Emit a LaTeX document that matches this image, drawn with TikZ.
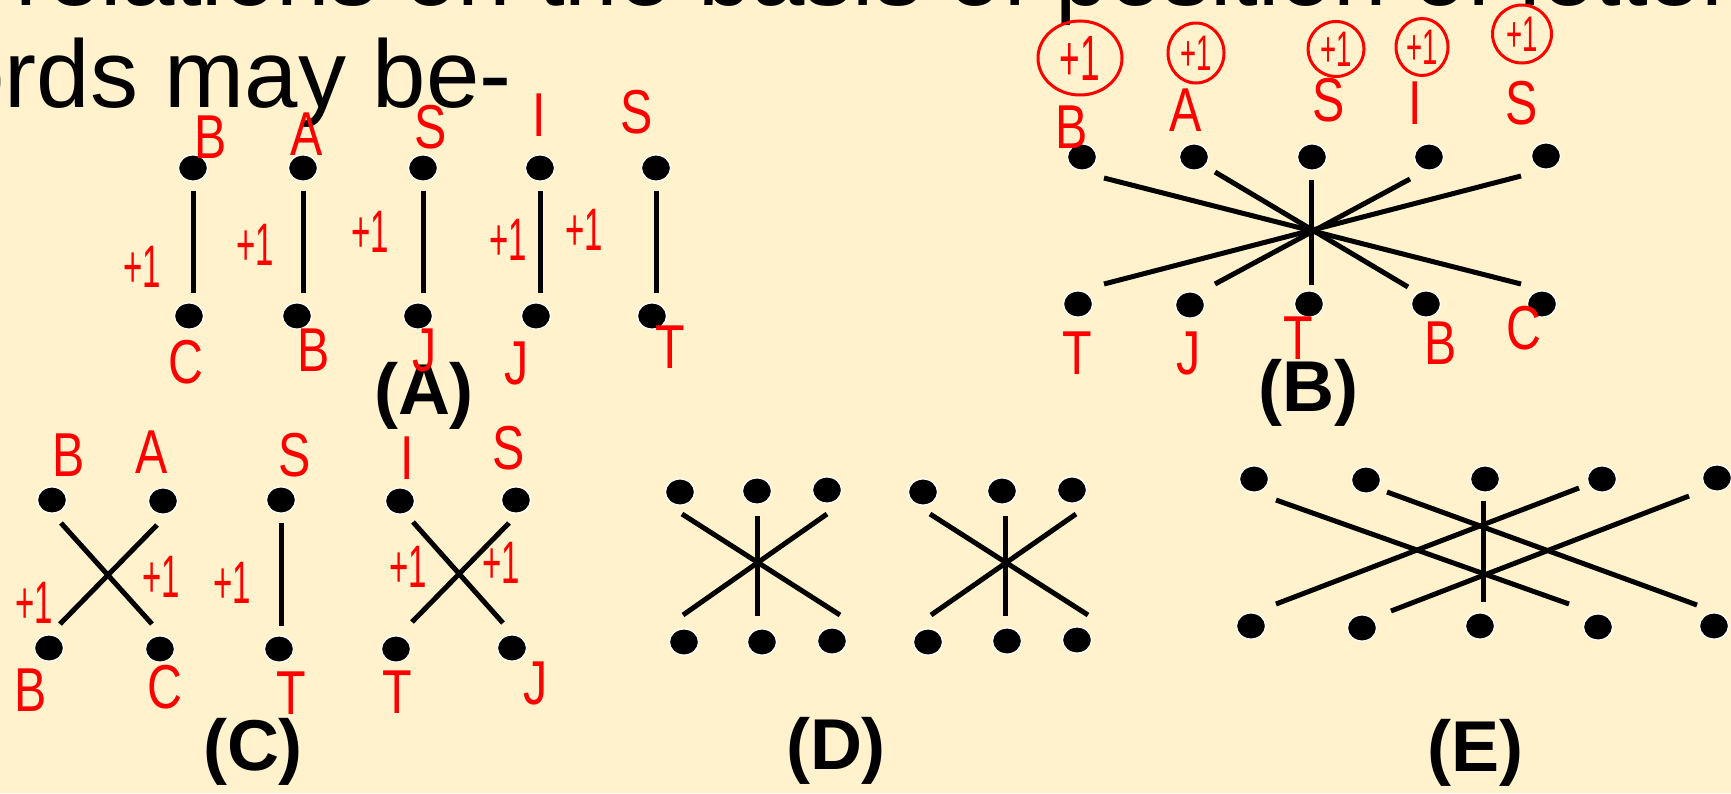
\documentclass[tikz,border=0pt]{standalone}
\usepackage{fontspec}
\setmainfont{Liberation Sans}
\newfontfamily\handfont[FakeStretch=0.78]{Liberation Sans}
\newfontfamily\plusfont[FakeStretch=0.55]{Liberation Sans}
\usetikzlibrary{shapes.geometric}
\definecolor{slidecream}{RGB}{255,242,204}
\definecolor{inkred}{RGB}{255,0,0}

\tikzset{
  dot/.style={ellipse, fill=black, draw=white, line width=1.2pt, minimum width=29pt, minimum height=26pt, inner sep=0pt},
  bar/.style={line width=5pt, shorten <=9pt, shorten >=9pt},
  spoke/.style={line width=5pt},
  hand/.style={text=inkred, font=\handfont\fontsize{62}{62}\selectfont, inner sep=0pt},
  plus/.style={text=inkred, font=\plusfont\fontsize{60}{60}\selectfont, inner sep=0pt},
  ring/.style={ellipse, draw=inkred, line width=3pt, text=inkred, inner sep=0pt, font=\plusfont\fontsize{50}{50}\selectfont},
  caption/.style={font=\bfseries\fontsize{72}{72}\selectfont, inner sep=0pt},
  slide/.style={font=\fontsize{96}{96}\selectfont, inner sep=0pt}
}

\begin{document}
\begin{tikzpicture}[x=1pt,y=-1pt]
\useasboundingbox (0,0) rectangle (1731,793);
\fill[slidecream] (0,0) rectangle (1731,793);
\clip (0,0) rectangle (1731,793);

% slide text, cut by the frame
\node[slide, anchor=base west] (line1) at (15,5) {relations on the basis of position of letter};
\node[slide, anchor=base east] (line2) at (512,107) {words may be-};

% (A) five straight pairs
\node[dot] (at1) at (193,168) {}; \node[dot] (at2) at (303,168) {}; \node[dot] (at3) at (423,168) {};
\node[dot] (at4) at (540,168) {}; \node[dot] (at5) at (656,168) {};
\node[dot] (ab1) at (189,316) {}; \node[dot] (ab2) at (297,316) {}; \node[dot] (ab3) at (418,316) {};
\node[dot] (ab4) at (536,316) {}; \node[dot] (ab5) at (652,316) {};
\draw[bar] (at1) -- (at1 |- ab1.north);
\draw[bar] (at2) -- (at2 |- ab2.north);
\draw[bar] (at3) -- (at3 |- ab3.north);
\draw[bar] (at4) -- (at4 |- ab4.north);
\draw[bar] (at5) -- (at5 |- ab5.north);
\node[caption] (capA) at (424,396) {(A)};

% (B) star of five
\node[dot] (bt1) at (1082,157) {}; \node[dot] (bt2) at (1194,157) {}; \node[dot] (bt3) at (1312,157) {};
\node[dot] (bt4) at (1429,157) {}; \node[dot] (bt5) at (1546,156) {};
\node[dot] (bb1) at (1078,304) {}; \node[dot] (bb2) at (1190,305) {}; \node[dot] (bb3) at (1309,304) {};
\node[dot] (bb4) at (1426,304) {}; \node[dot] (bb5) at (1542,304) {};
\coordinate (bhub) at (1311,231);
\draw[spoke] (bhub) +(-207,-53) -- +(210,53);
\draw[spoke] (bhub) +(-96,-59) -- +(97,56);
\draw[spoke] (bhub) +(0,-51) -- +(0,54);
\draw[spoke] (bhub) +(99,-52) -- +(-96,53);
\draw[spoke] (bhub) +(210,-55) -- +(-207,53);
\node[caption] (capB) at (1308,393) {(B)};

% (C) two crosses and a bar
\node[dot] (ct1) at (52,500) {}; \node[dot] (ct2) at (163,501) {}; \node[dot] (ct3) at (281,500) {};
\node[dot] (ct4) at (400,501) {}; \node[dot] (ct5) at (516,500) {};
\node[dot] (cb1) at (49,648) {}; \node[dot] (cb2) at (160,649) {}; \node[dot] (cb3) at (279,649) {};
\node[dot] (cb4) at (396,649) {}; \node[dot] (cb5) at (512,648) {};
\coordinate (chub1) at (108,574);
\coordinate (chub2) at (459,572);
\draw[spoke] (chub1) +(-47,-51) -- +(44,50);
\draw[spoke] (chub1) +(49,-49) -- +(-48,50);
\draw[bar] (ct3) -- (ct3 |- cb3.north);
\draw[spoke] (chub2) +(-46,-50) -- +(44,51);
\draw[spoke] (chub2) +(50,-49) -- +(-47,50);
\node[caption] (capC) at (253,752) {(C)};

% (D) two stars of three
\node[dot] (dt1) at (680,492) {}; \node[dot] (dt2) at (757,491) {}; \node[dot] (dt3) at (827,490) {};
\node[dot] (dt4) at (923,492) {}; \node[dot] (dt5) at (1002,491) {}; \node[dot] (dt6) at (1072,490) {};
\node[dot] (db1) at (684,642) {}; \node[dot] (db2) at (762,642) {}; \node[dot] (db3) at (832,641) {};
\node[dot] (db4) at (928,642) {}; \node[dot] (db5) at (1007,641) {}; \node[dot] (db6) at (1077,640) {};
\coordinate (dhub1) at (757,565);
\coordinate (dhub2) at (1005,565);
\draw[spoke] (dhub1) +(-75,-51) -- +(83,50);
\draw[spoke] (dhub1) +(70,-51) -- +(-74,50);
\draw[spoke] (dhub1) +(0,-49) -- +(0,51);
\draw[spoke] (dhub2) +(-75,-51) -- +(83,50);
\draw[spoke] (dhub2) +(71,-51) -- +(-74,50);
\draw[spoke] (dhub2) +(0,-49) -- +(0,51);
\node[caption] (capD) at (836,751) {(D)};

% (E) shifted star
\node[dot] (et1) at (1254,479) {}; \node[dot] (et2) at (1366,480) {}; \node[dot] (et3) at (1485,479) {};
\node[dot] (et4) at (1602,479) {}; \node[dot] (et5) at (1717,478) {};
\node[dot] (eb1) at (1251,626) {}; \node[dot] (eb2) at (1362,628) {}; \node[dot] (eb3) at (1480,626) {};
\node[dot] (eb4) at (1598,627) {}; \node[dot] (eb5) at (1714,626) {};
\coordinate (ehub) at (1483,552);
\draw[spoke] (ehub) +(-207,-52) -- +(86,52);
\draw[spoke] (ehub) +(-96,-60) -- +(214,53);
\draw[spoke] (ehub) +(0,-51) -- +(0,50);
\draw[spoke] (ehub) +(96,-64) -- +(-207,52);
\draw[spoke] (ehub) +(206,-56) -- +(-92,59);
\node[caption] (capE) at (1475,753) {(E)};

% red handwriting
\node[hand] (at1l) at (211,137) {B};  \node[hand] (at2l) at (307,134) {A};
\node[hand] (at3l) at (431,127) {S};  \node[hand] (at4l) at (539,115) {I};
\node[hand] (at5l) at (637,112) {S};
\node[hand] (ab1l) at (186,362) {C};  \node[hand] (ab2l) at (314,350) {B};
\node[hand] (ab3l) at (425,350) {J};  \node[hand] (ab4l) at (517,363) {J};
\node[hand] (ab5l) at (670,347) {T};
\node[plus] (ap1) at (142,267) {+1}; \node[plus] (ap2) at (255,245) {+1};
\node[plus] (ap3) at (370,232) {+1}; \node[plus] (ap4) at (508,240) {+1};
\node[plus] (ap5) at (584,230) {+1};

\node[hand] (bt1l) at (1072,127) {B}; \node[hand] (bt2l) at (1186,110) {A};
\node[hand] (bt3l) at (1329,100) {S}; \node[hand] (bt4l) at (1415,103) {I};
\node[hand] (bt5l) at (1522,103) {S};
\node[hand] (bb1l) at (1077,353) {T}; \node[hand] (bb2l) at (1189,353) {J};
\node[hand] (bb3l) at (1298,338) {T}; \node[hand] (bb4l) at (1441,343) {B};
\node[hand] (bb5l) at (1524,328) {C};
\node[ring, minimum width=84pt, minimum height=74pt, font=\plusfont\fontsize{64}{64}\selectfont] (bp1) at (1080,58) {+1};
\node[ring, minimum width=56pt, minimum height=60pt] (bp2) at (1196,53) {+1};
\node[ring, minimum width=56pt, minimum height=55pt] (bp3) at (1336,49) {+1};
\node[ring, minimum width=52pt, minimum height=57pt] (bp4) at (1422,47) {+1};
\node[ring, minimum width=59pt, minimum height=58pt] (bp5) at (1522,34) {+1};

\node[hand] (ct1l) at (69,455) {B};  \node[hand] (ct2l) at (152,452) {A};
\node[hand] (ct3l) at (295,455) {S}; \node[hand] (ct4l) at (407,458) {I};
\node[hand] (ct5l) at (509,448) {S};
\node[hand] (cb1l) at (31,690) {B};  \node[hand] (cb2l) at (165,687) {C};
\node[hand] (cb3l) at (291,693) {T}; \node[hand] (cb4l) at (397,692) {T};
\node[hand] (cb5l) at (536,683) {J};
\node[plus] (cp1) at (34,603) {+1};  \node[plus] (cp2) at (161,577) {+1};
\node[plus] (cp3) at (232,583) {+1}; \node[plus] (cp4) at (408,567) {+1};
\node[plus] (cp5) at (501,563) {+1};
\end{tikzpicture}
\end{document}
